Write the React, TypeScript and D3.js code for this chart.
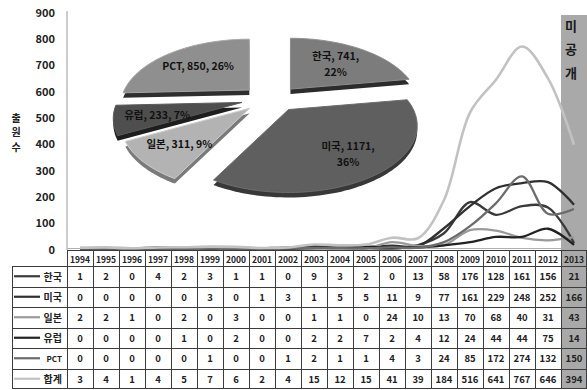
import React from 'react';
import * as d3 from 'd3';

const years = ['1994','1995','1996','1997','1998','1999','2000','2001','2002','2003','2004','2005','2006','2007','2008','2009','2010','2011','2012','2013'];
const seriesNames = ['한국','미국','일본','유럽','PCT','합계'];
const korea = [1,2,0,4,2,3,1,1,0,9,3,2,0,13,58,176,128,161,156,21];
const usa = [0,0,0,0,0,3,0,1,3,1,5,5,11,9,77,161,229,248,252,166];
const japan = [2,2,1,0,2,0,3,0,0,1,1,0,24,10,13,70,68,40,31,43];
const europe = [0,0,0,0,1,0,2,0,0,2,2,7,2,4,12,24,44,44,75,14];
const pct = [0,0,0,0,0,1,0,0,1,2,1,1,4,3,24,85,172,274,132,150];
const total = [3,4,1,4,5,7,6,2,4,15,12,15,41,39,184,516,641,767,646,394];
const yTicks = [0,100,200,300,400,500,600,700,800,900];

const pieNames = ['한국','미국','일본','유럽','PCT'];
const pieValues = [741,1171,311,233,850];
const piePercents = ['22%','36%','9%','7%','26%'];

const lineColors = ['#3a3a3a','#303030','#9a9a9a','#222222','#6c6c6c','#c2c2c2'];
const faceColors = ['#7c7c7c','#5f5f5f','#b3b3b3','#4e4e4e','#8f8f8f'];
const sideColors = ['#2c2c2c','#383838','#7a7a7a','#1e1e1e','#2e2e2e'];

const W = 587, H = 390;
const FONT = '"Noto Sans CJK KR", "Noto Sans", sans-serif';

export default function App() {
  const allSeries = [korea, usa, japan, europe, pct, total];
  const x = d3.scaleBand<string>().domain(years).range([67, 587]);
  const cx = (yr: string) => (x(yr) as number) + x.bandwidth() / 2;
  const y = d3.scaleLinear().domain([0, 900]).range([248.5, 11.5]);
  const line = d3.line<number>()
    .x((_, i) => cx(years[i]))
    .y(d => y(d))
    .curve(d3.curveCatmullRom.alpha(0.5));

  // table rows
  const headerTop = 250, headerBottom = 266, tableBottom = 389;
  const rowScale = d3.scaleBand<string>().domain(seriesNames).range([headerBottom, tableBottom]);
  const labelLeft = 12;

  // pie
  const pieGen = d3.pie<number>().sort(null).value(d => d);
  const arcs = pieGen(pieValues);
  const pcx = 271, pcy = 99, rx = 125, ry = 63, persp = 0.24, exX = 30, exY = 13, thick = 5;
  const proj = (t: number, r = 1): [number, number] => {
    const f = 1 / (1 + persp * Math.cos(t));
    return [rx * r * Math.sin(t) * f, -ry * r * Math.cos(t) * f];
  };
  const pieLine = d3.line<[number, number]>();
  const slices = arcs.map((a, i) => {
    const mid = (a.startAngle + a.endAngle) / 2;
    const ax = pcx + exX * Math.sin(mid);
    const ay = pcy - exY * Math.cos(mid);
    const n = Math.max(8, Math.ceil((a.endAngle - a.startAngle) / 0.03));
    const pts: [number, number][] = [[ax, ay]];
    for (let k = 0; k <= n; k++) {
      const t = a.startAngle + (a.endAngle - a.startAngle) * k / n;
      const p = proj(t);
      pts.push([ax + p[0], ay + p[1]]);
    }
    const d = pieLine(pts) + 'Z';
    const lp = proj(mid, 0.66);
    const wrap = mid < Math.PI;
    return { d, ax, ay, lx: ax + lp[0], ly: ay + lp[1], wrap, i };
  });

  return (
    <svg width={W} height={H} style={{ position: 'absolute', left: 0, top: 0, background: '#fff' }} fontFamily={FONT}>
      {/* unpublished shaded column */}
      <rect x={x('2013')} y={15} width={x.bandwidth() + 1} height={tableBottom - 15} fill="#a9a9a9" />
      {['미', '공', '개'].map((c, i) => (
        <text key={c} x={cx('2013') - 3} y={25 + i * 23.5} textAnchor="middle" dominantBaseline="central" fontSize={13} fontWeight="bold" fill="#1a1a1a">{c}</text>
      ))}

      {/* y axis */}
      <line x1={67} x2={67} y1={11} y2={headerTop} stroke="#9a9a9a" strokeWidth={1} />
      <line x1={67} x2={x('2013')} y1={248.5} y2={248.5} stroke="#b0b0b0" strokeWidth={1} />
      {yTicks.map(t => (
        <text key={t} x={55} y={y(t)} textAnchor="end" dominantBaseline="central" fontSize={11} fontWeight="bold" fill="#222">{t}</text>
      ))}
      {['출', '원', '수'].map((c, i) => (
        <text key={c} x={16} y={117 + i * 14.5} textAnchor="middle" dominantBaseline="central" fontSize={10} fontWeight="bold" fill="#222">{c}</text>
      ))}

      {/* lines */}
      {allSeries.map((s, i) => (
        <path key={i} d={line(s) as string} fill="none" stroke={lineColors[i]} strokeWidth={i === 5 ? 2.6 : 2.3} strokeLinejoin="round" />
      ))}

      {/* pie */}
      {slices.map(s => (
        <path key={'side' + s.i} d={s.d} transform={`translate(0,${thick})`} fill={sideColors[s.i]} />
      ))}
      {slices.map(s => (
        <g key={'face' + s.i}>
          <path d={s.d} fill={faceColors[s.i]} stroke={d3.color(faceColors[s.i])!.brighter(0.4).toString()} strokeWidth={1} />
        </g>
      ))}
      {slices.map(s => {
        const name = pieNames[s.i], v = pieValues[s.i], p = piePercents[s.i];
        return s.wrap ? (
          <text key={'lab' + s.i} x={s.lx} y={s.ly} textAnchor="middle" fontSize={10.5} fontWeight="bold" fill="#111">
            <tspan x={s.lx} dy="-0.2em">{`${name}, ${v},`}</tspan>
            <tspan x={s.lx} dy="1.55em">{p}</tspan>
          </text>
        ) : (
          <text key={'lab' + s.i} x={s.lx} y={s.ly} textAnchor="middle" dominantBaseline="central" fontSize={10.5} fontWeight="bold" fill="#111">{`${name}, ${v}, ${p}`}</text>
        );
      })}

      {/* table */}
      <g stroke="#3c3c3c" strokeWidth={1} fill="none">
        <rect x={67.5} y={headerTop + 0.5} width={W - 68} height={tableBottom - headerTop - 1} />
        <rect x={labelLeft + 0.5} y={headerBottom + 0.5} width={67 - labelLeft} height={tableBottom - headerBottom - 1} />
        {years.slice(1).map(yr => (
          <line key={yr} x1={Math.round(x(yr) as number) + 0.5} x2={Math.round(x(yr) as number) + 0.5} y1={headerTop} y2={tableBottom} />
        ))}
        {seriesNames.map(n => (
          <line key={n} x1={labelLeft} x2={W} y1={Math.round(rowScale(n) as number) + 0.5} y2={Math.round(rowScale(n) as number) + 0.5} />
        ))}
      </g>
      {years.map(yr => (
        <text key={yr} x={cx(yr)} y={(headerTop + headerBottom) / 2 + 0.5} textAnchor="middle" dominantBaseline="central" fontSize={8.5} fontWeight="bold" fill="#222">{yr}</text>
      ))}
      {seriesNames.map((n, r) => {
        const ry0 = (rowScale(n) as number) + rowScale.bandwidth() / 2;
        return (
          <g key={n}>
            <line x1={14} x2={40} y1={ry0} y2={ry0} stroke={lineColors[r]} strokeWidth={2.2} />
            <text x={62} y={ry0} textAnchor="end" dominantBaseline="central" fontSize={n === 'PCT' ? 8 : 10} fontWeight="bold" fill="#222">{n}</text>
            {allSeries[r].map((v, i) => (
              <text key={i} x={cx(years[i])} y={ry0} textAnchor="middle" dominantBaseline="central" fontSize={9.5} fontWeight="bold" fill="#222">{v}</text>
            ))}
          </g>
        );
      })}
    </svg>
  );
}
